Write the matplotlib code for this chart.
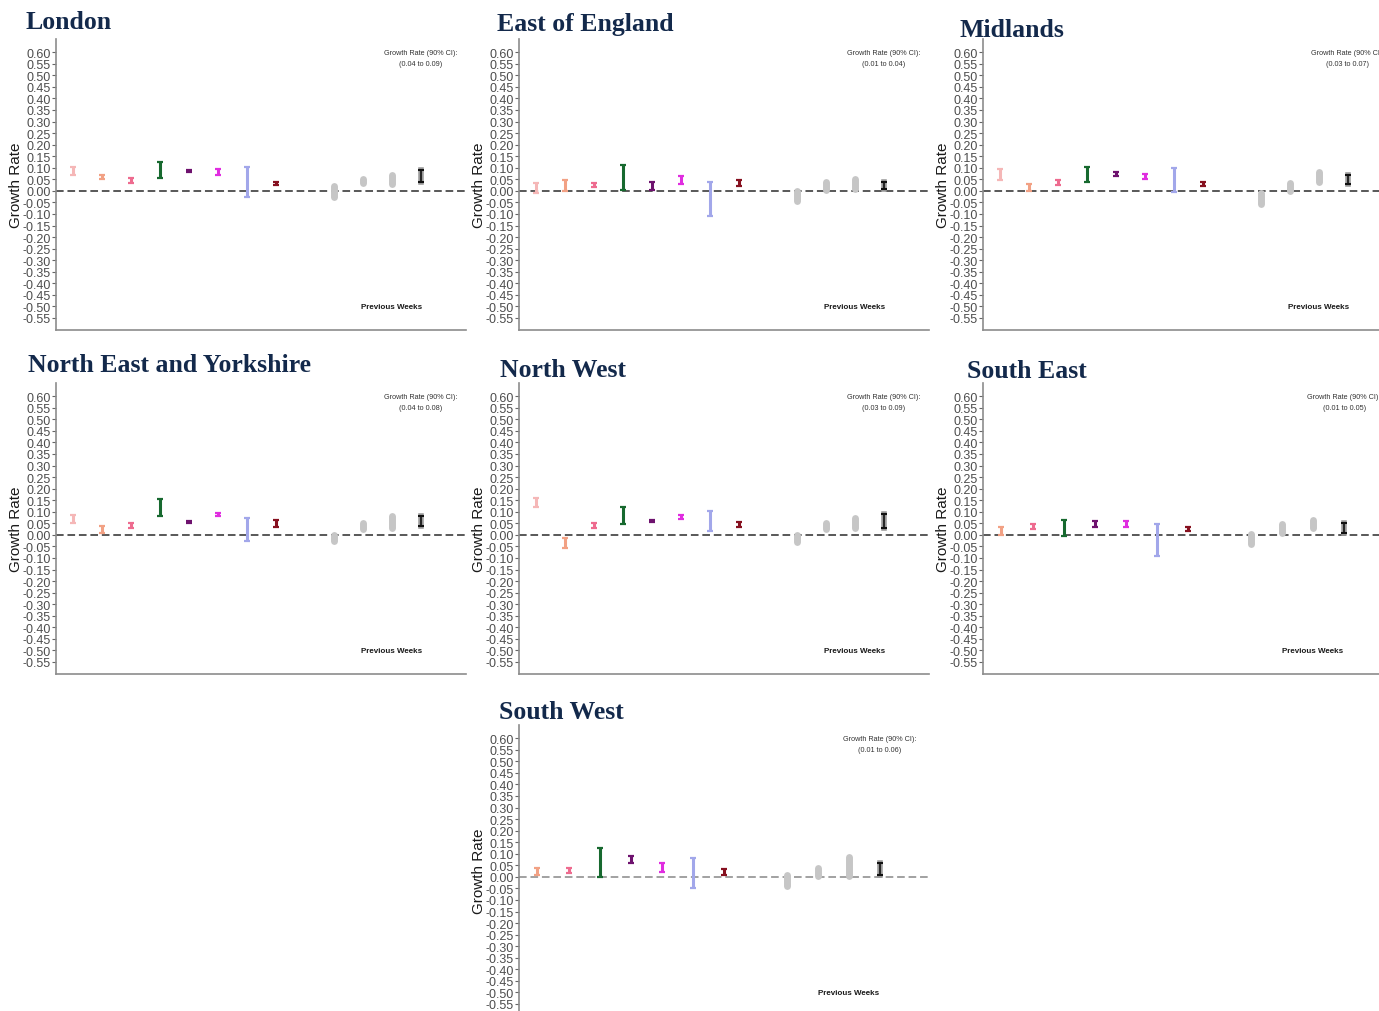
import matplotlib
matplotlib.use("Agg")
import matplotlib.pyplot as plt
import numpy as np

plt.rcParams["font.family"] = ["Liberation Sans", "DejaVu Sans"]

# ---- data: 90% CI bounds of the growth rate ----
region_names = ["London", "East of England", "Midlands",
                "North East and Yorkshire", "North West", "South East", "South West"]

# coloured estimates (lower / upper)
london_lo = [0.070, 0.050, 0.035, 0.055, 0.080, 0.070, -0.025, 0.025]
london_hi = [0.105, 0.070, 0.055, 0.125, 0.090, 0.095, 0.105, 0.040]
east_lo = [-0.010, 0.000, 0.015, 0.005, 0.005, 0.030, -0.110, 0.020]
east_hi = [0.035, 0.045, 0.035, 0.110, 0.040, 0.065, 0.040, 0.045]
midlands_lo = [0.045, 0.000, 0.025, 0.040, 0.065, 0.050, -0.005, 0.020]
midlands_hi = [0.095, 0.030, 0.045, 0.105, 0.080, 0.075, 0.100, 0.040]
ney_lo = [0.050, 0.010, 0.030, 0.080, 0.050, 0.080, -0.025, 0.035]
ney_hi = [0.085, 0.040, 0.050, 0.155, 0.060, 0.095, 0.075, 0.065]
nw_lo = [0.120, -0.055, 0.030, 0.045, 0.055, 0.070, 0.015, 0.035]
nw_hi = [0.160, -0.015, 0.050, 0.120, 0.065, 0.085, 0.105, 0.055]
se_lo = [0.000, 0.025, -0.005, 0.035, 0.035, -0.090, 0.015]
se_hi = [0.035, 0.045, 0.065, 0.060, 0.060, 0.045, 0.035]
sw_lo = [0.010, 0.015, 0.000, 0.060, 0.020, -0.050, 0.010]
sw_hi = [0.040, 0.040, 0.125, 0.090, 0.060, 0.080, 0.035]

# previous weeks (grey)
london_prev_lo = [-0.025, 0.035, 0.030]
london_prev_hi = [0.020, 0.050, 0.070]
east_prev_lo = [-0.045, 0.005, 0.010]
east_prev_hi = [0.000, 0.040, 0.050]
midlands_prev_lo = [-0.055, 0.000, 0.040]
midlands_prev_hi = [-0.010, 0.035, 0.080]
ney_prev_lo = [-0.025, 0.025, 0.030]
ney_prev_hi = [0.000, 0.050, 0.080]
nw_prev_lo = [-0.030, 0.025, 0.030]
nw_prev_hi = [0.000, 0.050, 0.075]
se_prev_lo = [-0.040, 0.010, 0.030]
se_prev_hi = [0.005, 0.045, 0.065]
sw_prev_lo = [-0.040, 0.005, 0.005]
sw_prev_hi = [0.010, 0.040, 0.085]

# current growth rate (90% CI)
current_lo = [0.04, 0.01, 0.03, 0.04, 0.03, 0.01, 0.01]
current_hi = [0.09, 0.04, 0.07, 0.08, 0.09, 0.05, 0.06]

ytick_vals = np.round(np.arange(-0.55, 0.601, 0.05), 2) + 0.0

# ---- styling ----
cat_colors = ["#f5b7b7", "#f2a184", "#ee6b8f", "#17692f", "#6e126e",
              "#e02de0", "#a2a7ea", "#86101f"]
grey = "#c6c6c6"
title_color = "#13294b"

W, H = 1379, 1012
fig = plt.figure(figsize=(W / 100, H / 100), dpi=100)

# panel placement in pixels: (left spine x, top y)
panel_pos = [(56, 40), (519, 40), (983, 40), (56, 384), (519, 384), (983, 384), (519, 726)]
title_pos = [(26, 29), (497, 31), (959, 37), (28, 372), (500, 377), (967, 378), (499, 719)]
AX_W, AX_H = 410, 291

panels = [
    (london_lo, london_hi, london_prev_lo, london_prev_hi),
    (east_lo, east_hi, east_prev_lo, east_prev_hi),
    (midlands_lo, midlands_hi, midlands_prev_lo, midlands_prev_hi),
    (ney_lo, ney_hi, ney_prev_lo, ney_prev_hi),
    (nw_lo, nw_hi, nw_prev_lo, nw_prev_hi),
    (se_lo, se_hi, se_prev_lo, se_prev_hi),
    (sw_lo, sw_hi, sw_prev_lo, sw_prev_hi),
]

for i, (lo, hi, plo, phi) in enumerate(panels):
    left, top = panel_pos[i]
    ax = fig.add_axes([left / W, 1 - (top + AX_H) / H, AX_W / W, AX_H / H])

    n_col = len(lo)
    n_slots = n_col + 5
    colors = cat_colors[-n_col:]

    ax.axhline(0, color="#888888" if i == 6 else "#2b2b2b", lw=1.1,
               ls=(0, (5, 2.5)), zorder=1)

    # coloured estimates
    for x, (a, b) in enumerate(zip(lo, hi)):
        mid = (a + b) / 2
        ax.errorbar(x, mid, yerr=[[mid - a], [b - mid]], fmt="none",
                    ecolor=colors[x], elinewidth=2.2, capsize=2.5, capthick=1.6, zorder=3)

    # previous weeks
    for k, (a, b) in enumerate(zip(plo, phi)):
        x = n_col + 1 + k
        ax.plot([x, x], [a, b], color=grey, lw=5, solid_capstyle="round", zorder=2)

    # current week
    xc = n_slots - 1
    clo, chi = current_lo[i], current_hi[i]
    cmid = (clo + chi) / 2
    ax.plot([xc, xc], [clo, chi], color="#9a9a9a", lw=4, zorder=2)
    ax.errorbar(xc, cmid, yerr=[[cmid - clo], [chi - cmid]], fmt="none",
                ecolor="#111111", elinewidth=1.2, capsize=2.5, capthick=1.5, zorder=3)

    ax.text(xc, 0.60, "Growth Rate (90% CI):", ha="center", va="center",
            fontsize=5.2, color="#333333")
    ax.text(xc, 0.55, f"({clo:.2f} to {chi:.2f})", ha="center", va="center",
            fontsize=5.2, color="#333333")
    ax.text(xc - 1, -0.50, "Previous Weeks", ha="center", va="center",
            fontsize=5.8, fontweight="bold", color="#1a1a1a")

    ax.set_xlim(-0.59, n_slots + 0.57)
    ax.set_ylim(-0.602, 0.657)
    ax.set_xticks([])
    ax.set_yticks(ytick_vals, labels=[f"{t:.2f}" for t in ytick_vals])
    ax.tick_params(axis="y", labelsize=9, labelcolor="#4d4d4d", length=3,
                   width=0.8, color="#666666", pad=1)
    for side in ("top", "right"):
        ax.spines[side].set_visible(False)
    for side in ("left", "bottom"):
        ax.spines[side].set_color("#8c8c8c")
        ax.spines[side].set_linewidth(1.2)

    ax.set_ylabel("Growth Rate", fontsize=11, color="#1a1a1a")
    ax.yaxis.set_label_coords(-33 / AX_W, 0.5)

    tx, ty = title_pos[i]
    fig.text(tx / W, 1 - ty / H, region_names[i], ha="left", va="baseline",
             fontsize=18.5, fontweight="bold", color=title_color,
             family="Liberation Serif")

fig.savefig("out.png", dpi=100)
